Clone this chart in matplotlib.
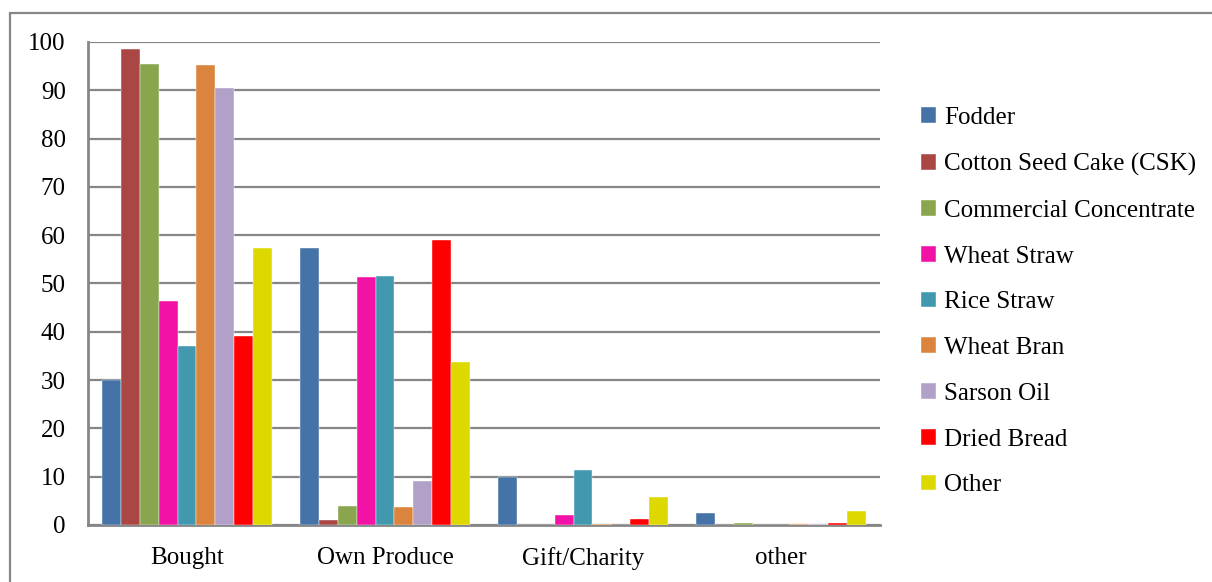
import numpy as np
import matplotlib.pyplot as plt
from matplotlib.patches import Rectangle

plt.rcParams['font.family'] = ['Liberation Serif', 'DejaVu Serif']

# sources of each feed item (% of households)
sources = ["Bought", "Own Produce", "Gift/Charity", "other"]

fodder = [30.0, 57.3, 10.0, 2.5]
cotton_seed_cake = [98.6, 1.1, 0.0, 0.0]
commercial_conc = [95.4, 3.9, 0.0, 0.5]
wheat_straw = [46.4, 51.3, 2.1, 0.0]
rice_straw = [37.1, 51.6, 11.3, 0.0]
wheat_bran = [95.2, 3.8, 0.3, 0.3]
sarson_oil = [90.5, 9.0, 0.0, 0.3]
dried_bread = [39.2, 59.0, 1.2, 0.4]
other_feed = [57.3, 33.7, 5.8, 2.8]

series_names = ["Fodder", "Cotton Seed Cake (CSK)", "Commercial Concentrate",
                "Wheat Straw", "Rice Straw", "Wheat Bran", "Sarson Oil",
                "Dried Bread", "Other"]
series_values = [fodder, cotton_seed_cake, commercial_conc, wheat_straw,
                 rice_straw, wheat_bran, sarson_oil, dried_bread, other_feed]
colors = ["#4572A7", "#AA4643", "#89A54E", "#F212A5", "#4198AF",
          "#DB843D", "#B1A0C7", "#FF0000", "#DDD800"]

fig = plt.figure(figsize=(12.12, 5.82), dpi=100)
ax = fig.add_axes([0.0726, 0.098, 0.6535, 0.83])

x = np.arange(len(sources))
n = len(series_values)
w = 0.0952
for i, (name, vals, c) in enumerate(zip(series_names, series_values, colors)):
    offs = (i - (n - 1) / 2) * w
    ax.bar(x + offs, vals, width=w, color=c, label=name, zorder=3,
           edgecolor='white', linewidth=0.3)

ax.set_xlim(-0.5, len(sources) - 0.5)
ax.set_ylim(0, 100)
ax.set_yticks(range(0, 101, 10))
ax.set_xticks(x)
ax.set_xticklabels(sources)
ax.yaxis.grid(True, color='#868686', linewidth=1.6, zorder=0)
ax.tick_params(axis='both', length=0, labelsize=18, colors='black')
ax.tick_params(axis='y', pad=16)
ax.tick_params(axis='x', pad=16)
for s in ['top', 'right']:
    ax.spines[s].set_visible(False)
for s in ['left', 'bottom']:
    ax.spines[s].set_color('#868686')
    ax.spines[s].set_linewidth(2)

fig.legend(loc='upper left', bbox_to_anchor=(0.752, 0.833), frameon=False,
           fontsize=18, handlelength=0.6, handleheight=0.6,
           handletextpad=0.3, labelspacing=0.95, borderaxespad=0)

# outer chart border
fig.patches.append(Rectangle((10 / 1212, -0.1), 1.2, 1 - 13 / 582 + 0.1,
                             transform=fig.transFigure, fill=False,
                             edgecolor='#868686', linewidth=1.6))

fig.savefig("out.png", dpi=100)
